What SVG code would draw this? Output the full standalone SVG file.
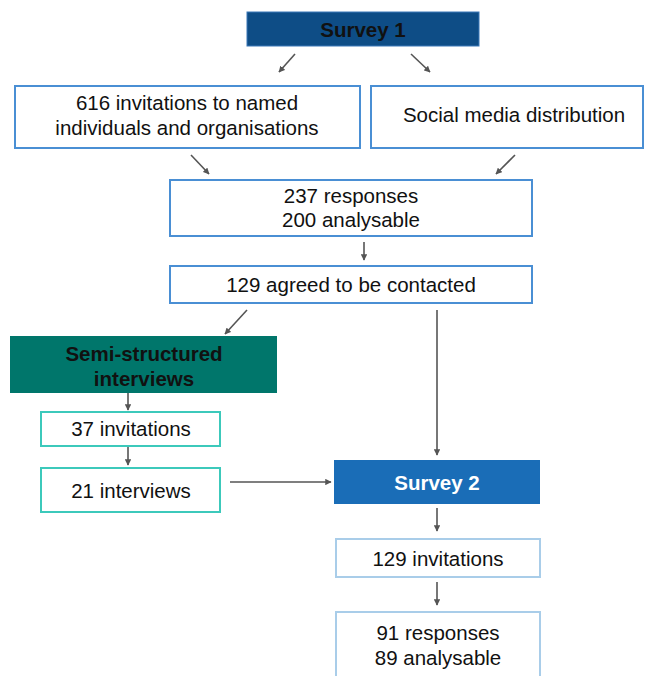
<svg xmlns="http://www.w3.org/2000/svg" width="654" height="676" viewBox="0 0 654 676">
<defs>
<marker id="ah" viewBox="0 0 10 10" refX="9" refY="5" markerWidth="4" markerHeight="4" orient="auto" markerUnits="strokeWidth">
<path d="M0,0 L10,5 L0,10 z" fill="#555"/>
</marker>
<style>
.t{font-family:"Liberation Sans",Arial,sans-serif;font-size:20.5px;fill:#111;text-anchor:middle}
.b{font-weight:bold}
.wb{fill:#fff;stroke:#4a8fd4;stroke-width:2}
.tq{fill:#fff;stroke:#3cc9bb;stroke-width:2}
.lb{fill:#fff;stroke:#a9cde9;stroke-width:2}
.c{stroke:#555;stroke-width:1.6;fill:none;marker-end:url(#ah)}
</style>
</defs>
<rect width="654" height="676" fill="#fff"/>
<g id="connectors">
<line class="c" x1="295" y1="54" x2="279" y2="72"/>
<line class="c" x1="411" y1="54" x2="430" y2="72"/>
<line class="c" x1="191" y1="155" x2="209" y2="174"/>
<line class="c" x1="515" y1="155" x2="496" y2="174"/>
<line class="c" x1="364" y1="242" x2="364" y2="260"/>
<line class="c" x1="247" y1="310" x2="225" y2="334"/>
<line class="c" x1="437" y1="310" x2="437" y2="455"/>
<line class="c" x1="128" y1="393" x2="128" y2="410"/>
<line class="c" x1="128" y1="447" x2="128" y2="465"/>
<line class="c" x1="230" y1="482" x2="331" y2="482"/>
<line class="c" x1="437" y1="508" x2="437" y2="531"/>
<line class="c" x1="437" y1="582" x2="437" y2="605"/>
</g>
<g id="survey1">
<rect x="247" y="12" width="232" height="34" fill="#0e4d86" stroke="#3a78b8" stroke-width="1"/>
<text class="t b" x="363" y="37">Survey 1</text>
</g>
<g id="invitations616">
<rect class="wb" x="15" y="86" width="345" height="62"/>
<text class="t" x="187" y="110">616 invitations to named</text>
<text class="t" x="187" y="135">individuals and organisations</text>
</g>
<g id="social">
<rect class="wb" x="371" y="86" width="272" height="62"/>
<text class="t" x="514" y="122">Social media distribution</text>
</g>
<g id="responses237">
<rect class="wb" x="170" y="180" width="362" height="56"/>
<text class="t" x="351" y="203">237 responses</text>
<text class="t" x="351" y="227">200 analysable</text>
</g>
<g id="agreed129">
<rect class="wb" x="170" y="266" width="362" height="37"/>
<text class="t" x="351" y="292">129 agreed to be contacted</text>
</g>
<g id="semi">
<rect x="10" y="336" width="267" height="57" fill="#00766b"/>
<text class="t b" x="144" y="361">Semi-structured</text>
<text class="t b" x="144" y="386">interviews</text>
</g>
<g id="invitations37">
<rect class="tq" x="41" y="412" width="179" height="34"/>
<text class="t" x="131" y="436">37 invitations</text>
</g>
<g id="interviews21">
<rect class="tq" x="41" y="468" width="179" height="44"/>
<text class="t" x="131" y="498">21 interviews</text>
</g>
<g id="survey2">
<rect x="334" y="460" width="206" height="44" fill="#1a6db7"/>
<text class="t b" x="437" y="490" style="fill:#fff">Survey 2</text>
</g>
<g id="invitations129">
<rect class="lb" x="336" y="539" width="204" height="38"/>
<text class="t" x="438" y="566">129 invitations</text>
</g>
<g id="responses91">
<rect class="lb" x="336" y="612" width="204" height="70"/>
<text class="t" x="438" y="640">91 responses</text>
<text class="t" x="438" y="665">89 analysable</text>
</g>
</svg>
